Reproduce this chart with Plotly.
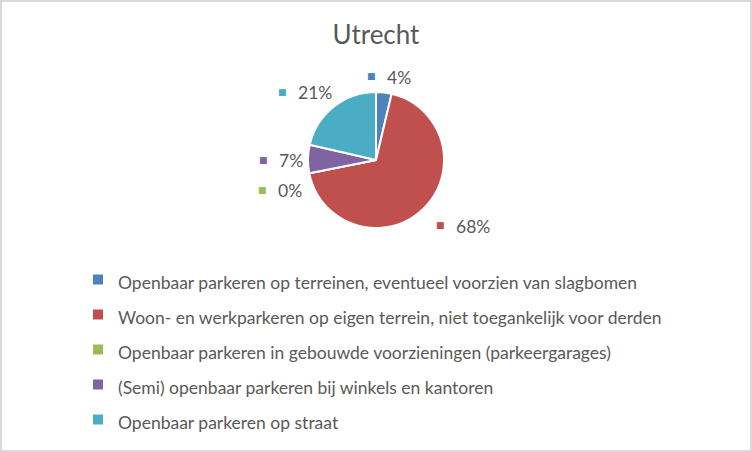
import plotly.graph_objects as go

# ---- data ----
title_text = "Utrecht"
categories = [
    "Openbaar parkeren op terreinen, eventueel voorzien van slagbomen",
    "Woon- en werkparkeren op eigen terrein, niet toegankelijk voor derden",
    "Openbaar parkeren in gebouwde voorzieningen (parkeergarages)",
    "(Semi) openbaar parkeren bij winkels en kantoren",
    "Openbaar parkeren op straat",
]
values = [3.7, 68.2, 0.0, 6.7, 21.4]
colors = ["#4F81BD", "#C0504D", "#9BBB59", "#8064A2", "#4BACC6"]

# ---- layout helpers ----
W, H = 752, 452
FONT = "Lato, Carlito, Calibri, sans-serif"
TXT = "#595959"
TEXT_SIZE = 17.5
ROW_PITCH = 35  # legend row spacing in px
LEGEND_FONT = (ROW_PITCH - 3) / 1.3
# data-label square positions (px), one per category
label_pos = [(371, 76), (440, 225), (262, 190), (263, 160), (282, 92)]

total = sum(values)
pcts = [f"{round(v / total * 100)}%" for v in values]
legend_labels = [f"<span style='font-size:{TEXT_SIZE}px'>{c}</span>" for c in categories]

fig = go.Figure()
fig.add_trace(go.Pie(
    labels=legend_labels,
    values=values,
    customdata=categories,
    marker=dict(colors=colors, line=dict(color="white", width=2)),
    sort=False,
    direction="clockwise",
    rotation=0,
    textinfo="none",
    hovertemplate="%{customdata}: %{percent}<extra></extra>",
    domain=dict(x=[308 / W, 444 / W], y=[1 - 228 / H, 1 - 92 / H]),
))

annotations = []
for (px, py), c, t in zip(label_pos, colors, pcts):
    annotations.append(dict(
        x=px / W, y=1 - py / H, xref="paper", yref="paper",
        text="■", showarrow=False,
        font=dict(color=c, size=9, family="DejaVu Sans"),
        xanchor="center", yanchor="middle",
    ))
    annotations.append(dict(
        x=(px + 14) / W, y=1 - (py + 1) / H, xref="paper", yref="paper",
        text=t, showarrow=False,
        font=dict(color=TXT, size=TEXT_SIZE, family=FONT),
        xanchor="left", yanchor="middle",
    ))

fig.update_layout(
    width=W, height=H,
    margin=dict(l=0, r=0, t=0, b=0),
    paper_bgcolor="white",
    plot_bgcolor="white",
    font=dict(family=FONT, color=TXT),
    title=dict(
        text=title_text, x=0.5, xanchor="center",
        y=1 - 35 / H, yanchor="middle", yref="container",
        font=dict(size=26, color=TXT, family=FONT),
    ),
    showlegend=True,
    legend=dict(
        x=78 / W, xanchor="left", y=1 - 257 / H, yanchor="top",
        font=dict(size=LEGEND_FONT, color=TXT, family=FONT),
        bgcolor="rgba(0,0,0,0)",
    ),
    annotations=annotations,
    shapes=[dict(
        type="rect", xref="paper", yref="paper",
        x0=1 / W, x1=1 - 1 / W, y0=1 / H, y1=1 - 1 / H,
        line=dict(color="#D9D9D9", width=2),
    )],
)

fig.write_html(
    "out.html",
    config={"displayModeBar": False},
    post_script="document.body.style.margin='0px';document.body.style.overflow='hidden';",
)
